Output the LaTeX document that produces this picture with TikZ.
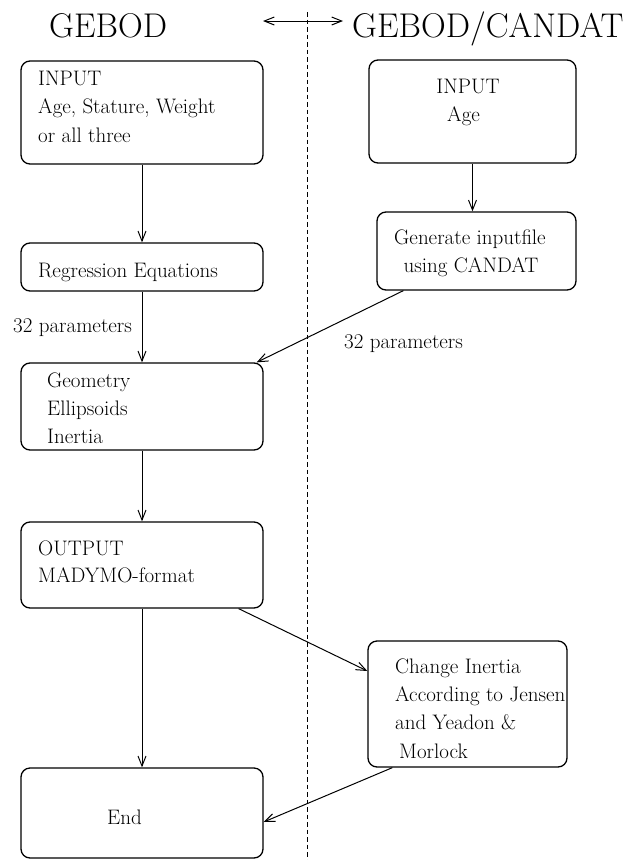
\documentclass[tikz,border=0pt]{standalone}
\usetikzlibrary{arrows.meta}
\begin{document}
\begin{tikzpicture}[x=1pt,y=-1pt,
  box/.style={draw, line width=1.3pt, rounded corners=9pt, inner sep=0pt},
  txt/.style={inner sep=0pt, anchor=base west, font=\fontsize{21pt}{25pt}\selectfont},
  ctxt/.style={inner sep=0pt, anchor=base, font=\fontsize{21pt}{25pt}\selectfont},
  ttl/.style={inner sep=0pt, anchor=base west, font=\fontsize{34.3pt}{40pt}\selectfont},
  conn/.style={line width=1pt, -{Straight Barb[length=10pt,width=8pt,line width=1pt]}}]
\useasboundingbox (0,0) rectangle (625,860);
% titles
\node[ttl] (tl) at (49,37) {GEBOD};
\node[ttl] (tr) at (352,37) {GEBOD/CANDAT};
\coordinate (da) at (263,21);
\coordinate (db) at (343,21);
\draw[line width=1pt, {Straight Barb[length=10pt,width=8pt,line width=1pt]}-{Straight Barb[length=10pt,width=8pt,line width=1pt]}] (da) -- (db);
% divider
\coordinate (dv1) at (307,12);
\coordinate (dv2) at (307,860);
\draw[line width=0.9pt, dash pattern=on 4.5pt off 3pt] (dv1) -- (dv2);
% boxes
\node[box, minimum width=242pt, minimum height=103pt] (b1) at (142,112.5) {};
\node[box, minimum width=207pt, minimum height=103pt] (b2) at (472.5,111.5) {};
\node[box, minimum width=242pt, minimum height=48pt] (b3) at (142,267) {};
\node[box, minimum width=199pt, minimum height=78pt] (b4) at (476.5,251) {};
\node[box, minimum width=242pt, minimum height=87pt] (b5) at (142,406.5) {};
\node[box, minimum width=242pt, minimum height=86pt] (b6) at (142,565) {};
\node[box, minimum width=199pt, minimum height=126pt] (b7) at (467.5,704) {};
\node[box, minimum width=242pt, minimum height=90pt] (b8) at (142,813) {};
% texts
\node[txt] (t1a) at (38,85) {INPUT};
\node[txt] (t1b) at (38,113) {Age, Stature, Weight};
\node[txt] (t1c) at (38,142) {or all three};
\node[ctxt] (t2a) at (468,93) {INPUT};
\node[txt] (t2b) at (447,121) {Age};
\node[txt] (t3) at (38,277) {Regression Equations};
\node[ctxt] (t4a) at (470,244) {Generate inputfile};
\node[ctxt] (t4b) at (471,272) {using CANDAT};
\node[txt] (p1) at (13,332) {32 parameters};
\node[txt] (p2) at (344,348) {32 parameters};
\node[txt] (t5a) at (47,387) {Geometry};
\node[txt] (t5b) at (47,415) {Ellipsoids};
\node[txt] (t5c) at (47,443) {Inertia};
\node[txt] (t6a) at (38,555) {OUTPUT};
\node[txt] (t6b) at (38,582) {MADYMO-format};
\node[txt] (t7a) at (395,673) {Change Inertia};
\node[txt] (t7b) at (395,701) {According to Jensen};
\node[txt] (t7c) at (395,729) {and Yeadon \&};
\node[txt] (t7d) at (399,758) {Morlock};
\node[txt] (t8) at (107,824) {End};
% connectors
\draw[conn] (b1.south) -- (b3.north);
\draw[conn] (b2.south) -- (b2.south |- b4.north);
\draw[conn] (b3.south) -- (b5.north);
\draw[conn] ([xshift=27pt]b4.south west) -- ([xshift=-7pt]b5.north east);
\draw[conn] (b5.south) -- (b6.north);
\draw[conn] ([xshift=-25pt]b6.south east) -- ([yshift=33pt]b7.west);
\draw[conn] (b6.south) -- (b8.north);
\draw[conn] ([xshift=25pt]b7.south west) -- ([yshift=-9pt]b8.east);
\end{tikzpicture}
\end{document}
